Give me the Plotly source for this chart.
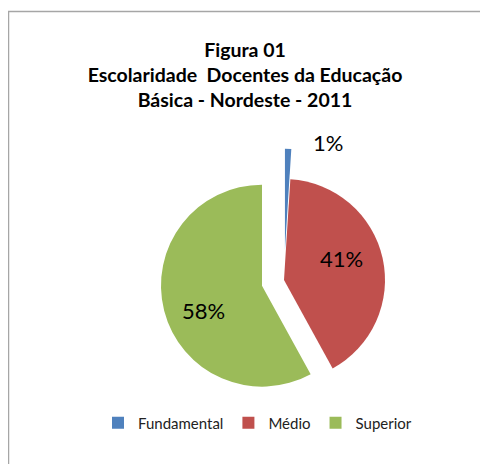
import plotly.graph_objects as go

categories = ["Fundamental", "Médio", "Superior"]
values = [1, 41, 58]
colors = ["#4F81BD", "#C0504D", "#9BBB59"]
pulls = [0.30, 0.0, 0.225]
title_lines = ["Figura 01", "Escolaridade  Docentes da Educação", "Básica - Nordeste - 2011"]

# figure is drawn inside the page body (8px default margin)
W, H = 480, 456
cx, cy, r = 276, 272, 101
half = r * (1 + max(pulls))

total = sum(values)
pct = [f"{round(v / total * 100)}%" for v in values]
label_pos = [(320, 134), (333, 250), (195, 302)]

fig = go.Figure(go.Pie(
    labels=categories,
    values=values,
    marker=dict(colors=colors, line=dict(width=0)),
    pull=pulls,
    sort=False,
    direction="clockwise",
    rotation=0,
    textinfo="none",
    domain=dict(x=[(cx - half) / W, (cx + half) / W],
                y=[(H - cy - half) / H, (H - cy + half) / H]),
    hoverinfo="label+percent",
))

annotations = [
    dict(text=t, x=px / W, y=1 - py / H, xref="paper", yref="paper",
         xanchor="center", yanchor="middle", showarrow=False,
         font=dict(family="Lato", size=22, color="black"))
    for t, (px, py) in zip(pct, label_pos)
]

fig.update_layout(
    width=W, height=H,
    margin=dict(l=0, r=0, t=0, b=0),
    paper_bgcolor="white",
    plot_bgcolor="white",
    title=dict(text="<br>".join(title_lines), x=237 / W, xanchor="center",
               y=1 - 48.5 / H, yanchor="top",
               font=dict(family="Lato", size=19.5, color="black", weight="bold")),
    legend=dict(orientation="h", x=90 / W, xanchor="left", y=1 - 415 / H, yanchor="middle",
                font=dict(family="Lato", size=15, color="#222"),
                itemwidth=30, traceorder="normal"),
    annotations=annotations,
    shapes=[dict(type="rect", xref="paper", yref="paper",
                 x0=0.5 / W, x1=1.2, y0=-0.2, y1=1 - 3.5 / H,
                 line=dict(color="#A6A6A6", width=1.5), fillcolor="rgba(0,0,0,0)", layer="below")],
)

fig.write_html("out.html")
